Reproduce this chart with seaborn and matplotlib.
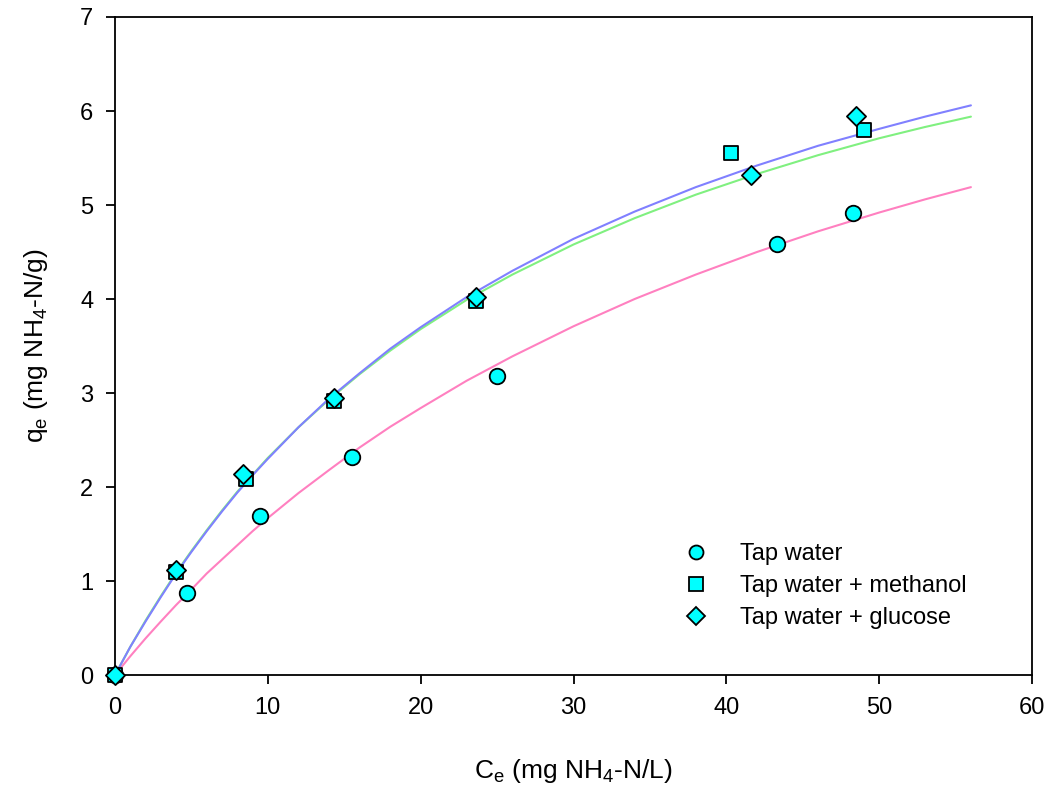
import numpy as np
import pandas as pd
import seaborn as sns
import matplotlib.pyplot as plt
from matplotlib.lines import Line2D

# measured points (Ce, qe)
tap_ce = [0.0, 4.7, 9.5, 15.5, 25.0, 43.3, 48.3]
tap_qe = [0.0, 0.87, 1.69, 2.32, 3.18, 4.58, 4.92]
meth_ce = [0.0, 4.0, 8.6, 14.3, 23.6, 40.3, 49.0]
meth_qe = [0.0, 1.10, 2.08, 2.92, 3.98, 5.55, 5.80]
gluc_ce = [0.0, 4.0, 8.4, 14.3, 23.6, 41.6, 48.5]
gluc_qe = [0.0, 1.12, 2.14, 2.95, 4.02, 5.32, 5.95]

# fitted curves
fit_ce = [0, 1, 2, 3, 4, 5, 6, 7, 8, 9, 10, 12, 14, 16, 18, 20, 23, 26, 30, 34, 38, 42, 46, 50, 53, 56]
tap_fit_qe = [0, 0.20, 0.39, 0.57, 0.745, 0.91, 1.08, 1.23, 1.38, 1.53, 1.67, 1.935, 2.18, 2.42,
              2.64, 2.84, 3.13, 3.39, 3.71, 4.00, 4.26, 4.50, 4.72, 4.92, 5.06, 5.19]
meth_fit_qe = [0, 0.30, 0.57, 0.83, 1.08, 1.31, 1.53, 1.74, 1.94, 2.125, 2.30, 2.635, 2.94, 3.21,
               3.47, 3.70, 4.02, 4.30, 4.64, 4.93, 5.19, 5.42, 5.63, 5.81, 5.94, 6.06]
gluc_fit_qe = [0, 0.30, 0.58, 0.84, 1.09, 1.32, 1.54, 1.75, 1.95, 2.13, 2.31, 2.635, 2.93, 3.20,
               3.45, 3.68, 3.99, 4.26, 4.58, 4.86, 5.11, 5.33, 5.53, 5.71, 5.83, 5.94]

labels = ["Tap water", "Tap water + methanol", "Tap water + glucose"]

sns.set_style("ticks")
plt.rcParams['font.family'] = ['Liberation Sans', 'DejaVu Sans']
plt.rcParams['mathtext.fontset'] = 'custom'
plt.rcParams['mathtext.rm'] = 'Liberation Sans'
plt.rcParams['mathtext.it'] = 'Liberation Sans'
plt.rcParams['text.color'] = 'black'
plt.rcParams['axes.labelcolor'] = 'black'

fig = plt.figure(figsize=(10.62, 7.87), dpi=100)
ax = fig.add_axes([0.1083, 0.1423, 0.8635, 0.8361])

fits = pd.DataFrame({
    "ce": fit_ce * 3,
    "qe": tap_fit_qe + gluc_fit_qe + meth_fit_qe,
    "set": ["tap"] * len(fit_ce) + ["gluc"] * len(fit_ce) + ["meth"] * len(fit_ce),
})
sns.lineplot(data=fits, x="ce", y="qe", hue="set", estimator=None, sort=False,
             palette={"tap": "#ff80c0", "gluc": "#80f080", "meth": "#8080ff"},
             linewidth=1.5, legend=False, ax=ax)

pts = [(tap_ce, tap_qe, "o", 125), (meth_ce, meth_qe, "s", 110), (gluc_ce, gluc_qe, "D", 95)]
handles = []
for (x, y, m, s), lab in zip(pts, labels):
    sns.scatterplot(x=x, y=y, marker=m, s=s, color="#00ffff", edgecolor="black",
                    linewidth=1.3, ax=ax, zorder=5, legend=False)
    handles.append(Line2D([], [], ls="none", marker=m, markersize=np.sqrt(s) * 0.9,
                          markerfacecolor="#00ffff", markeredgecolor="black",
                          markeredgewidth=1.3, label=lab))
for c in ax.collections:
    c.set_clip_on(False)

leg = ax.legend(handles=handles, frameon=False, fontsize=17, loc="upper left",
                bbox_to_anchor=(0.597, 0.215), handletextpad=0.9, labelspacing=0.43,
                borderaxespad=0)
for t in leg.get_texts():
    t.set_color("black")

ax.set_xlim(0, 60)
ax.set_ylim(0, 7)
ax.set_xticks(range(0, 61, 10))
ax.set_yticks(range(0, 8))
for sp in ax.spines.values():
    sp.set_linewidth(1.3)
    sp.set_color("black")
ax.tick_params(axis="both", direction="out", length=6.5, width=1.3, labelsize=17,
               pad=9, colors="black")
ax.set_xlabel(r"C$_\mathrm{e}$ (mg NH$_4$-N/L)", fontsize=19, labelpad=28)
ax.set_ylabel(r"q$_\mathrm{e}$ (mg NH$_4$-N/g)", fontsize=19, labelpad=22)

fig.savefig("out.png", dpi=100)
